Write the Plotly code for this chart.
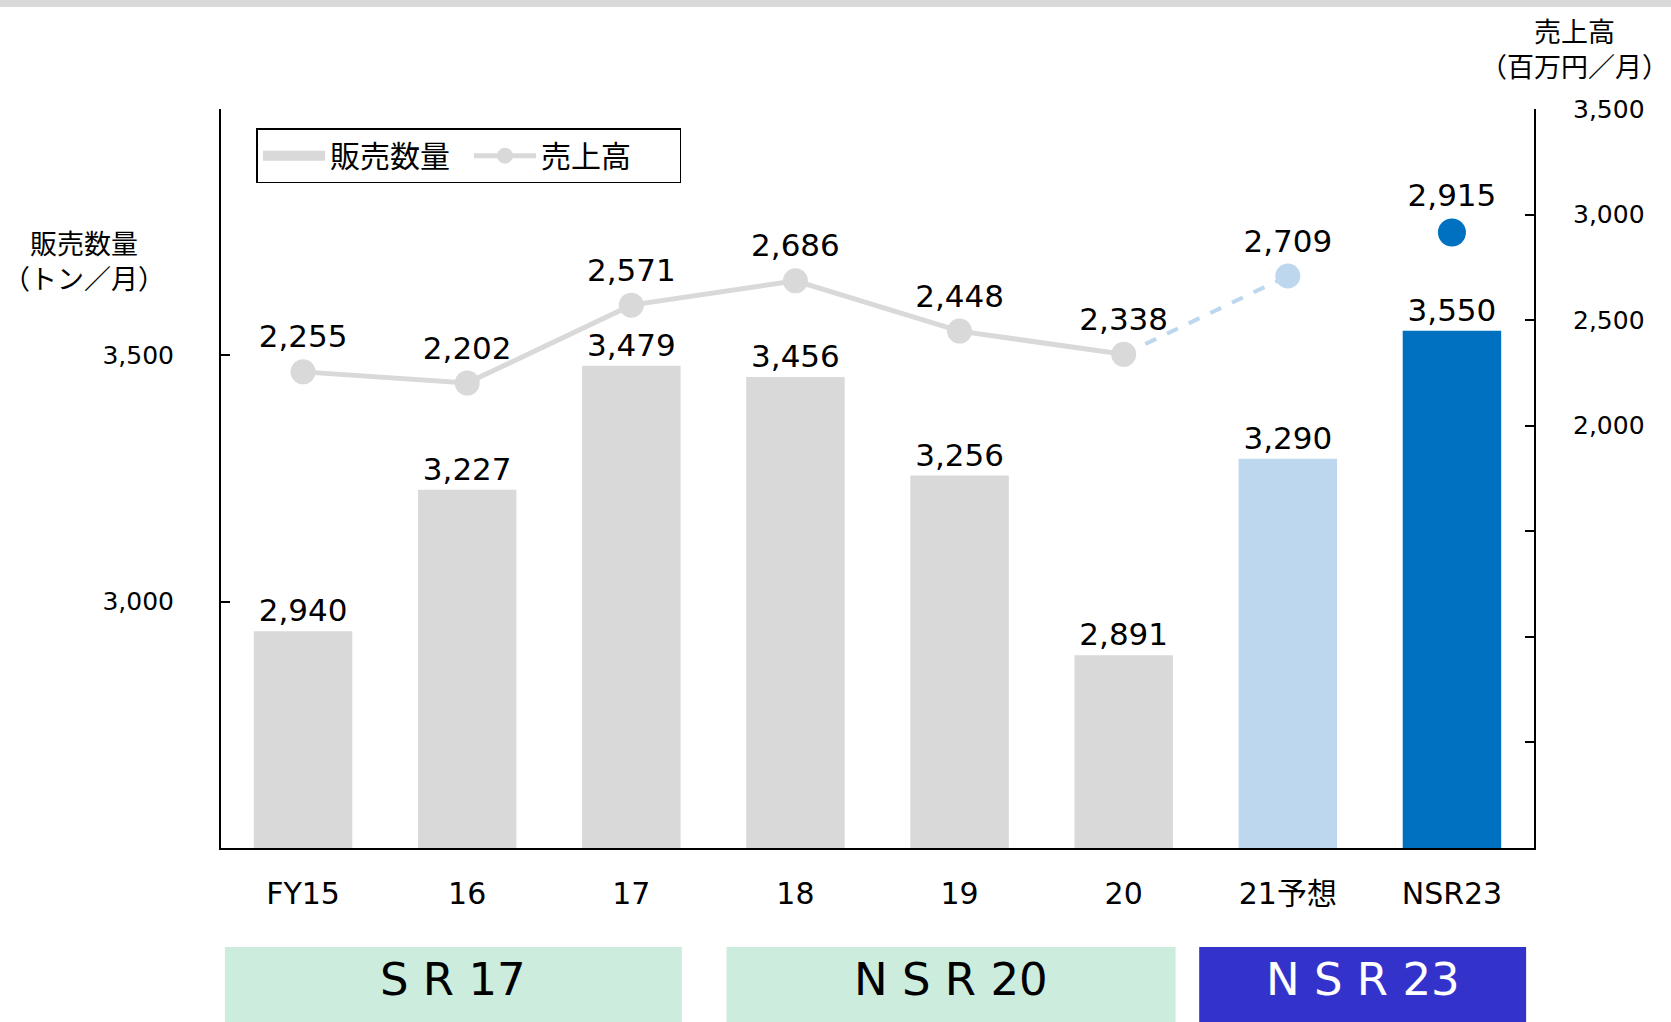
import plotly.graph_objects as go

# ---- data ----
categories = ["FY15", "16", "17", "18", "19", "20", "21予想", "NSR23"]
volume = [2940, 3227, 3479, 3456, 3256, 2891, 3290, 3550]          # 販売数量 (トン/月)
sales = [2255, 2202, 2571, 2686, 2448, 2338, 2709, 2915]           # 売上高 (百万円/月)
bar_colors = ["#D9D9D9"] * 6 + ["#BDD7EE", "#0070C0"]
left_ticks = [2500, 3000, 3500, 4000]
left_ticktext = ["", "3,000", "3,500", ""]
right_ticks = [0, 500, 1000, 1500, 2000, 2500, 3000, 3500]
right_ticktext = ["", "", "", "", "2,000", "2,500", "3,000", "3,500"]
groups = ["S R 17", "N S R 20", "N S R 23"]

FONT = "DejaVu Sans, Noto Sans CJK JP, sans-serif"
CJK = "Noto Sans CJK JP, DejaVu Sans, sans-serif"
LBL = 31

fig = go.Figure()

fig.add_trace(go.Bar(
    x=categories, y=volume, name="販売数量",
    marker=dict(color=bar_colors, line=dict(width=0)),
    texttemplate="%{y:,}", textposition="outside",
    textfont=dict(size=LBL, color="black", family=FONT),
    cliponaxis=False, yaxis="y", showlegend=False,
))
# legend-only entry drawn as a wide gray swatch
fig.add_trace(go.Scatter(
    x=[None], y=[None], name="販売数量", mode="lines",
    line=dict(color="#D9D9D9", width=14), yaxis="y", showlegend=True,
))

# dashed forecast segment (20 -> 21予想)
fig.add_trace(go.Scatter(
    x=categories[5:7], y=sales[5:7], mode="lines",
    line=dict(color="#BDD7EE", width=4, dash="dash"),
    yaxis="y2", showlegend=False, hoverinfo="skip",
))
# actual sales line
fig.add_trace(go.Scatter(
    x=categories[:6], y=sales[:6], name="売上高", mode="lines+markers+text",
    line=dict(color="#D9D9D9", width=5),
    marker=dict(color="#D9D9D9", size=25),
    text=[f"{v:,}" for v in sales[:6]], textposition="top center",
    textfont=dict(size=LBL, color="black", family=FONT),
    cliponaxis=False, yaxis="y2",
))
# forecast marker
fig.add_trace(go.Scatter(
    x=categories[6:7], y=sales[6:7], mode="markers+text",
    marker=dict(color="#BDD7EE", size=25),
    text=[f"{v:,}" for v in sales[6:7]], textposition="top center",
    textfont=dict(size=LBL, color="black", family=FONT),
    cliponaxis=False, yaxis="y2", showlegend=False,
))
# NSR23 target marker
fig.add_trace(go.Scatter(
    x=categories[7:8], y=sales[7:8], mode="markers+text",
    marker=dict(color="#0070C0", size=28),
    text=[f"{v:,}" for v in sales[7:8]], textposition="top center",
    textfont=dict(size=LBL, color="black", family=FONT),
    cliponaxis=False, yaxis="y2", showlegend=False,
))

fig.update_layout(
    width=1671, height=1022,
    margin=dict(l=221, r=137, t=109, b=174),
    paper_bgcolor="white", plot_bgcolor="white",
    font=dict(family=FONT, color="black"),
    bargap=0.4,
    xaxis=dict(
        type="category", range=[-0.5, 7.5],
        showline=True, linecolor="black", linewidth=2,
        ticks="", tickfont=dict(size=30, family=FONT, color="black"),
        ticklabelstandoff=18, showgrid=False,
    ),
    yaxis=dict(
        range=[2500, 4000], tickvals=left_ticks, ticktext=left_ticktext,
        showline=True, linecolor="black", linewidth=2,
        ticks="inside", ticklen=9, tickwidth=2, tickcolor="black",
        tickfont=dict(size=25, family=FONT, color="black"),
        ticklabelstandoff=40, showgrid=False, zeroline=False,
    ),
    yaxis2=dict(
        overlaying="y", side="right",
        range=[0, 3500], tickvals=right_ticks, ticktext=right_ticktext,
        showline=True, linecolor="black", linewidth=2,
        ticks="inside", ticklen=9, tickwidth=2, tickcolor="black",
        tickfont=dict(size=25, family=FONT, color="black"),
        ticklabelstandoff=32, showgrid=False, zeroline=False,
    ),
    legend=dict(
        orientation="h", x=0.027, y=0.974, xanchor="left", yanchor="top",
        bordercolor="black", borderwidth=1.5, bgcolor="white",
        font=dict(size=30, family=CJK, color="black"),
        itemwidth=62, entrywidth=134, traceorder="normal",
    ),
    showlegend=True,
)

# axis titles
fig.add_annotation(
    xref="paper", yref="paper", x=-0.104, y=0.796, xanchor="center", yanchor="middle",
    text="販売数量<br>（トン／月）", showarrow=False,
    font=dict(size=27, family=CJK, color="black"),
)
fig.add_annotation(
    xref="paper", yref="paper", x=1.0305, y=1.0825, xanchor="center", yanchor="middle",
    text="売上高<br>（百万円／月）", showarrow=False,
    font=dict(size=27, family=CJK, color="black"),
)

# top gray band
fig.add_shape(type="rect", xref="paper", yref="paper",
              x0=-0.17, x1=1.11, y0=1.138, y1=1.1475,
              fillcolor="#D9D9D9", line=dict(width=0), layer="below")

# group boxes
boxes = [(0.003, 0.351, "#CCECDE", "black"),
         (0.385, 0.727, "#CCECDE", "black"),
         (0.745, 0.994, "#3333CC", "white")]
for (x0, x1, fc, tc), label in zip(boxes, groups):
    fig.add_shape(type="rect", xref="paper", yref="paper",
                  x0=x0, x1=x1, y0=-0.236, y1=-0.134,
                  fillcolor=fc, line=dict(width=0))
    fig.add_annotation(xref="paper", yref="paper", x=(x0 + x1) / 2, y=-0.1785,
                       xanchor="center", yanchor="middle", text=label, showarrow=False,
                       font=dict(size=45, family=FONT, color=tc))

fig.write_html(
    "out.html",
    config={"displayModeBar": False},
    post_script="document.body.style.margin='0';document.body.style.overflow='hidden';",
)
